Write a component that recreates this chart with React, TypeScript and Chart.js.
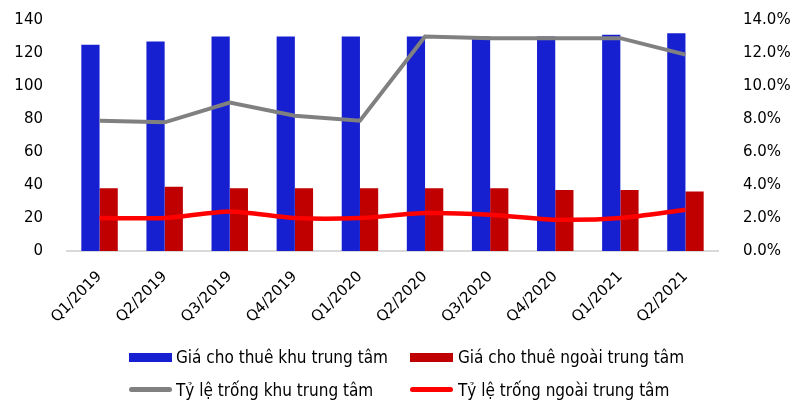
import React, { useEffect, useRef } from "react";
import { Chart, registerables } from "chart.js";

Chart.register(...registerables);

const quarters = [
  "Q1/2019", "Q2/2019", "Q3/2019", "Q4/2019", "Q1/2020",
  "Q2/2020", "Q3/2020", "Q4/2020", "Q1/2021", "Q2/2021",
];

// Rental prices (left axis)
const rentCentral = [125, 127, 130, 130, 130, 130, 130, 130, 131, 132];
const rentOutside = [38, 39, 38, 38, 38, 38, 38, 37, 37, 36];

// Vacancy rates in percent (right axis)
const vacancyCentral = [7.9, 7.8, 9.0, 8.2, 7.9, 13.0, 12.9, 12.9, 12.9, 11.9];
const vacancyOutside = [2.0, 2.0, 2.4, 2.0, 2.0, 2.3, 2.2, 1.9, 2.0, 2.5];

const leftTicks = [0, 20, 40, 60, 80, 100, 120, 140];
const rightTicks = [0, 2, 4, 6, 8, 10, 12, 14];

const seriesNames = [
  "Giá cho thuê khu trung tâm",
  "Giá cho thuê ngoài trung tâm",
  "Tỷ lệ trống khu trung tâm",
  "Tỷ lệ trống ngoài trung tâm",
];

const BLUE = "#1620D0";
const DARK_RED = "#C00000";
const GRAY = "#808080";
const RED = "#FF0000";

const TICK_FONT = { family: "'DejaVu Sans', Verdana, sans-serif", size: 15 };
const LEGEND_FONT = "'DejaVu Sans Condensed', 'DejaVu Sans', sans-serif";

// Fix the side axis width and keep the tick padding from enlarging the top inset
const fitSide = (width: number) => (s: any) => {
  s.width = width;
  s.paddingTop = 9;
  s.paddingBottom = 9;
};

export default function App() {
  const canvasRef = useRef<HTMLCanvasElement | null>(null);

  useEffect(() => {
    if (!canvasRef.current) return;
    const chart = new Chart(canvasRef.current, {
      type: "bar",
      data: {
        labels: quarters,
        datasets: [
          {
            type: "bar",
            label: seriesNames[0],
            data: rentCentral,
            backgroundColor: BLUE,
            yAxisID: "y",
            order: 2,
            categoryPercentage: 0.56,
            barPercentage: 1,
          },
          {
            type: "bar",
            label: seriesNames[1],
            data: rentOutside,
            backgroundColor: DARK_RED,
            yAxisID: "y",
            order: 2,
            categoryPercentage: 0.56,
            barPercentage: 1,
          },
          {
            type: "line",
            label: seriesNames[2],
            data: vacancyCentral,
            borderColor: GRAY,
            backgroundColor: GRAY,
            borderWidth: 4,
            pointRadius: 0,
            tension: 0,
            yAxisID: "y1",
            order: 0,
          },
          {
            type: "line",
            label: seriesNames[3],
            data: vacancyOutside,
            borderColor: RED,
            backgroundColor: RED,
            borderWidth: 4.5,
            pointRadius: 0,
            tension: 0.25,
            yAxisID: "y1",
            order: 0,
          },
        ] as any,
      },
      options: {
        animation: false,
        responsive: false,
        maintainAspectRatio: false,
        layout: { padding: { top: 20, left: 0, right: 0, bottom: 0 } },
        plugins: {
          legend: { display: false },
          tooltip: { enabled: false },
        },
        scales: {
          x: {
            grid: { display: false },
            border: { display: true, color: "#D9D9D9", width: 2 },
            ticks: {
              font: TICK_FONT,
              color: "#000",
              maxRotation: 45,
              minRotation: 45,
              padding: 9,
            },
            afterFit: (s: any) => {
              s.height = 149;
            },
          },
          y: {
            position: "left",
            min: 0,
            max: 140,
            grid: { display: false },
            border: { display: false },
            afterBuildTicks: (s: any) => {
              s.ticks = leftTicks.map((v) => ({ value: v }));
            },
            ticks: {
              font: TICK_FONT,
              color: "#000",
              padding: 16,
            },
            afterFit: fitSide(67),
          },
          y1: {
            position: "right",
            min: 0,
            max: 14,
            grid: { display: false },
            border: { display: false },
            afterBuildTicks: (s: any) => {
              s.ticks = rightTicks.map((v) => ({ value: v }));
            },
            ticks: {
              font: TICK_FONT,
              color: "#000",
              padding: 17,
              callback: (v: any) => Number(v).toFixed(1) + "%",
            },
            afterFit: fitSide(88),
          },
        },
      },
    });
    return () => chart.destroy();
  }, []);

  const textStyle = (left: number, top: number): React.CSSProperties => ({
    position: "absolute",
    left,
    top,
    fontFamily: LEGEND_FONT,
    fontSize: 17,
    lineHeight: "20px",
    color: "#000",
    whiteSpace: "nowrap",
  });

  const boxStyle = (left: number, top: number, color: string): React.CSSProperties => ({
    position: "absolute",
    left,
    top,
    width: 43,
    height: 9,
    background: color,
  });

  const lineStyle = (left: number, top: number, color: string): React.CSSProperties => ({
    position: "absolute",
    left,
    top,
    width: 43,
    height: 5,
    borderRadius: 3,
    background: color,
  });

  return (
    <div
      style={{
        position: "absolute",
        left: 0,
        top: 0,
        width: 806,
        height: 400,
        background: "#fff",
        overflow: "hidden",
      }}
    >
      <canvas ref={canvasRef} width={806} height={400} style={{ display: "block" }} />
      <div style={boxStyle(129, 353, BLUE)} />
      <div style={textStyle(176, 347)}>{seriesNames[0]}</div>
      <div style={boxStyle(410, 353, DARK_RED)} />
      <div style={textStyle(458, 347)}>{seriesNames[1]}</div>
      <div style={lineStyle(129, 387, GRAY)} />
      <div style={textStyle(176, 380)}>{seriesNames[2]}</div>
      <div style={lineStyle(410, 387, RED)} />
      <div style={textStyle(458, 380)}>{seriesNames[3]}</div>
    </div>
  );
}
